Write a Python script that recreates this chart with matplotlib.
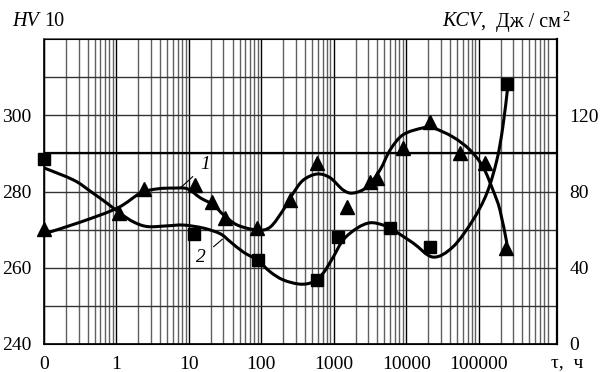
import matplotlib
matplotlib.use("Agg")
import matplotlib.pyplot as plt
from matplotlib.path import Path
from matplotlib.patches import PathPatch
import numpy as np

plt.rcParams['font.family'] = ['Liberation Serif', 'DejaVu Serif']

# measured points, curve 1 (triangles) and curve 2 (squares); tau in hours, HV10
tau_tri = [0.1, 1.07, 2.4, 12.3, 21, 32, 88, 250, 590, 1530, 3170, 3960,
           9040, 21300, 55000, 122000, 237000]
hv_tri = [270.2, 274.4, 280.7, 281.7, 277.3, 273.1, 270.4, 277.8, 287.5, 276.0,
          282.5, 283.6, 291.4, 298.3, 290.1, 287.5, 265.2]

tau_sq = [0.1, 11.9, 91, 590, 1150, 5980, 21300, 244000]
hv_sq = [288.6, 268.9, 262.0, 256.8, 268.1, 270.4, 265.5, 308.2]

# smoothed curves
curve1_tau = [0.1, 0.321, 1.04, 2.15, 3.69, 6.14, 9.57, 14.5, 21.8, 30.0, 46.7,
              88.1, 133, 201, 276, 379, 590, 891, 1346, 1849, 2884, 4355, 5984,
              9036, 17020, 23390, 44160, 75680, 114300, 157000, 195900, 244300]
curve1_hv = [268.9, 272.0, 275.7, 279.6, 280.7, 280.9, 280.7, 278.3, 276.5, 273.9,
             271.2, 269.9, 270.7, 275.2, 279.6, 283.0, 284.6, 283.6, 280.4, 279.6,
             281.2, 285.7, 290.9, 294.9, 296.7, 296.7, 294.3, 290.9, 286.5, 280.4,
             275.2, 266.5]

curve2_tau = [0.1, 0.257, 0.442, 0.757, 1.14, 1.73, 2.69, 5.07, 8.43, 15.9, 27.2,
              37.4, 56.5, 88.1, 133, 201, 344, 520, 714, 982, 1346, 2099, 3170,
              4786, 6577, 12420, 23390, 44160, 83180, 129700, 178200, 215300, 250000]
curve2_hv = [286.2, 283.0, 280.0, 276.8, 274.2, 272.0, 270.8, 271.0, 271.2, 270.4,
             268.9, 266.8, 264.1, 262.0, 258.9, 256.8, 255.7, 256.3, 258.6, 262.8,
             267.3, 270.4, 271.8, 271.2, 269.9, 266.5, 262.8, 265.5, 272.5, 279.6,
             288.3, 297.0, 307.0]

x_ticks = [0.1, 1, 10, 100, 1000, 10000, 100000]
x_labels = ['0', '1', '10', '100', '1000', '10000', '100000']
hv_ticks = [240, 260, 280, 300]
kcv_ticks = [0, 40, 80, 120]


def smooth_path(xs, ys):
    # Catmull-Rom through the read points, as cubic Bezier segments (log-x space)
    p = np.column_stack([np.log10(xs), ys])
    n = len(p)
    verts = [p[0]]
    codes = [Path.MOVETO]
    for i in range(n - 1):
        p0 = p[i - 1] if i > 0 else p[i]
        p3 = p[i + 2] if i + 2 < n else p[i + 1]
        c1 = p[i] + (p[i + 1] - p0) / 6
        c2 = p[i + 1] - (p3 - p[i]) / 6
        verts += [c1, c2, p[i + 1]]
        codes += [Path.CURVE4] * 3
    verts = np.array(verts)
    verts[:, 0] = 10 ** verts[:, 0]
    return Path(verts, codes)


fig = plt.figure(figsize=(6, 3.72), dpi=100)
ax = fig.add_axes([0.0733, 0.0753, 0.855, 0.8197])

ax.set_xscale('log')
ax.set_xlim(0.1, 10 ** 6.08)
ax.set_ylim(240, 320)

# grid: minor log lines in grey, decades in black
ax.set_xticks(x_ticks)
ax.set_xticklabels(x_labels)
ax.xaxis.set_minor_locator(matplotlib.ticker.LogLocator(base=10, subs=np.arange(2, 10)))
ax.xaxis.set_minor_formatter(matplotlib.ticker.NullFormatter())
ax.grid(True, which='minor', axis='x', color='#606060', lw=1.0)
ax.grid(True, which='major', axis='x', color='black', lw=1.0)
ax.set_yticks(hv_ticks)
ax.set_yticks(np.arange(250, 320, 10), minor=True)
ax.grid(True, which='both', axis='y', color='#333333', lw=1.0)
ax.axhline(290, color='black', lw=1.6, zorder=2)

ax.tick_params(which='both', length=0, labelsize=14, pad=9)
for s in ax.spines.values():
    s.set_linewidth(1.2)
ax.spines['top'].set_color('#555555')

for ct, ch in [(curve1_tau, curve1_hv), (curve2_tau, curve2_hv)]:
    ax.add_patch(PathPatch(smooth_path(ct, ch), fill=False, edgecolor='black',
                           lw=2.2, zorder=4, capstyle='round'))
ax.plot(tau_tri, hv_tri, ls='none', marker='^', ms=10, color='black', zorder=5, clip_on=False)
ax.plot(tau_sq, hv_sq, ls='none', marker='s', ms=8.5, color='black', zorder=5, clip_on=False)

# curve numbers with leader lines
ax.annotate('1', xy=(7.9, 281.2), xytext=(17, 287.0), fontsize=14, style='italic',
            ha='center', va='center',
            arrowprops=dict(arrowstyle='-', lw=0.8, color='black', shrinkA=5, shrinkB=0))
ax.annotate('2', xy=(29, 267.5), xytext=(14.5, 262.6), fontsize=14, style='italic',
            ha='center', va='center',
            arrowprops=dict(arrowstyle='-', lw=0.8, color='black', shrinkA=5, shrinkB=0))

ax2 = ax.twinx()
ax2.set_ylim(0, 160)
ax2.set_yticks(kcv_ticks)
ax2.tick_params(length=0, labelsize=14, pad=9)
ax2.spines['right'].set_linewidth(1.6)

# axis titles
ty = 1 - 22 / 372
fig.text(12 / 600, ty, 'HV', fontsize=14.5, style='italic', va='center', ha='left')
fig.text(44 / 600, ty, '10', fontsize=14.5, va='center', ha='left')
fig.text(442 / 600, ty, 'KCV', fontsize=14.5, style='italic', va='center', ha='left')
unit = fig.text(481 / 600, ty, ',  Дж / см', fontsize=14.5, va='center', ha='left')
fig.canvas.draw()
bb = unit.get_window_extent()
fig.text(bb.x1 / 600 + 0.003, ty + 0.012, '2', fontsize=10.5, va='center', ha='left')
fig.text(551 / 600, 1 - 363 / 372, 'τ,  ч', fontsize=14, va='center', ha='left')

fig.savefig('out.png', dpi=100)
